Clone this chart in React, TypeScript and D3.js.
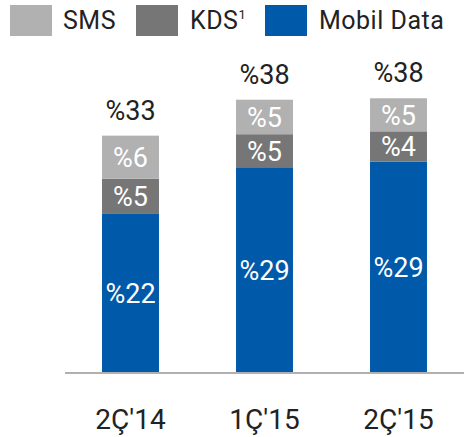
import * as d3 from 'd3';

const categories = ["2Ç'14", "1Ç'15", "2Ç'15"];
const mobilData = [22, 28.5, 29.3];
const kds = [4.9, 4.6, 4.2];
const sms = [6, 4.8, 4.6];
const mobilLabels = ['%22', '%29', '%29'];
const kdsLabels = ['%5', '%5', '%4'];
const smsLabels = ['%6', '%5', '%5'];
const totalLabels = ['%33', '%38', '%38'];

const seriesNames = ['SMS', 'KDS', 'Mobil Data'];
const colors = ['#b1b1b1', '#767676', '#0059a9'];

const width = 464;
const height = 437;
const baseY = 372;
const font = 'Roboto, sans-serif';

export default function App() {
  const x = d3
    .scaleBand()
    .domain(categories)
    .range([63.5, 465.5])
    .paddingInner(0.575)
    .paddingOuter(0.2875);

  const y = d3.scaleLinear().domain([0, 38]).range([baseY, 99]);

  const rows = categories.map((c, i) => ({
    cat: c,
    'Mobil Data': mobilData[i],
    KDS: kds[i],
    SMS: sms[i],
  }));
  const stack = d3.stack().keys(['Mobil Data', 'KDS', 'SMS'])(rows as any);
  const labels: Record<string, string[]> = {
    'Mobil Data': mobilLabels,
    KDS: kdsLabels,
    SMS: smsLabels,
  };

  return (
    <svg
      width={width}
      height={height}
      style={{ position: 'absolute', left: 0, top: 0, fontFamily: font }}
    >
      {/* legend */}
      {[
        { name: 'SMS', x: 10, tx: 63, sup: false },
        { name: 'KDS', x: 136, tx: 190, sup: true },
        { name: 'Mobil Data', x: 265, tx: 319, sup: false },
      ].map((l) => (
        <g key={l.name}>
          <rect x={l.x} y={5} width={42} height={31} fill={colors[seriesNames.indexOf(l.name)]} />
          <text x={l.tx} y={29} fontSize={25} fill="#222" letterSpacing={0.5}>
            {l.name}
            {l.sup && (
              <tspan fontSize={13} dy={-10}>
                1
              </tspan>
            )}
          </text>
        </g>
      ))}

      {stack.map((layer) => {
        const key = layer.key;
        const color = colors[seriesNames.indexOf(key)];
        return (
          <g key={key}>
            {layer.map((d, i) => {
              const x0 = x(categories[i])!;
              const y0 = y(d[1]);
              const h = y(d[0]) - y(d[1]);
              return (
                <g key={i}>
                  <rect x={x0} y={y0} width={x.bandwidth()} height={h} fill={color} />
                  <text
                    x={x0 + x.bandwidth() / 2}
                    y={y0 + h / 2 + 10}
                    textAnchor="middle"
                    fontSize={27}
                    fill="#fff"
                  >
                    {labels[key][i]}
                  </text>
                </g>
              );
            })}
          </g>
        );
      })}

      {categories.map((c, i) => {
        const total = mobilData[i] + kds[i] + sms[i];
        return (
          <text
            key={c}
            x={x(c)! + x.bandwidth() / 2}
            y={y(total) - 16}
            textAnchor="middle"
            fontSize={27}
            fill="#222"
          >
            {totalLabels[i]}
          </text>
        );
      })}

      <line x1={65} x2={width} y1={baseY + 1} y2={baseY + 1} stroke="#b0b0b0" strokeWidth={2} />

      {categories.map((c) => (
        <text
          key={c}
          x={x(c)! + x.bandwidth() / 2}
          y={429}
          textAnchor="middle"
          fontSize={28}
          fill="#222"
        >
          {c}
        </text>
      ))}
    </svg>
  );
}
